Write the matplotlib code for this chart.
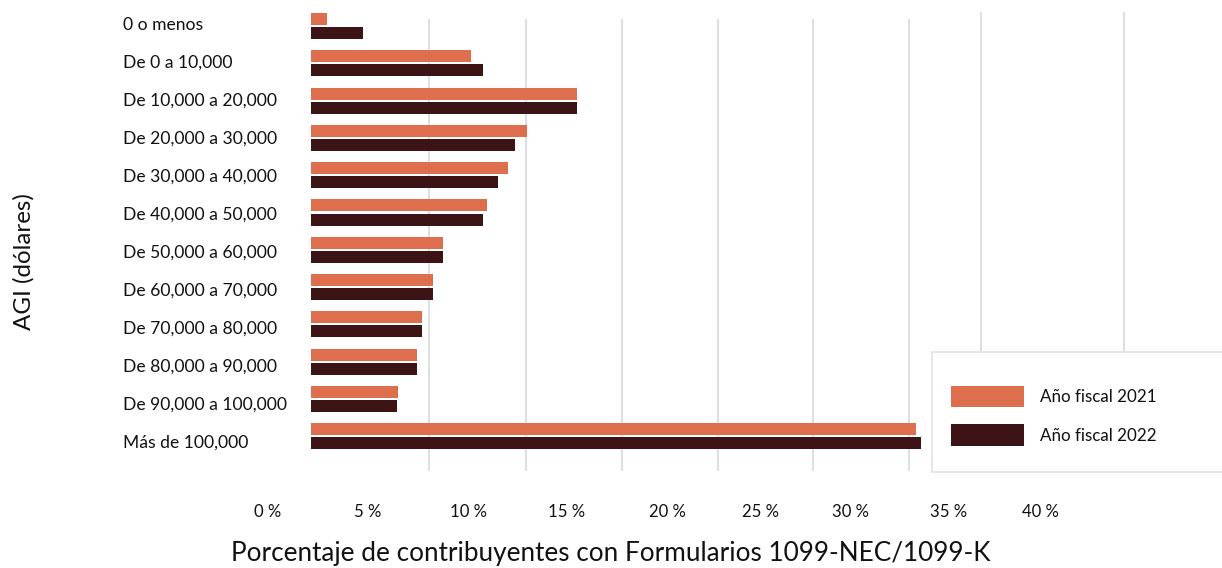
import matplotlib
matplotlib.use("Agg")
import matplotlib.pyplot as plt
import numpy as np
from matplotlib.patches import Rectangle

# ---------------- data ----------------
categories = ["0 o menos", "De 0 a 10,000", "De 10,000 a 20,000", "De 20,000 a 30,000",
              "De 30,000 a 40,000", "De 40,000 a 50,000", "De 50,000 a 60,000",
              "De 60,000 a 70,000", "De 70,000 a 80,000", "De 80,000 a 90,000",
              "De 90,000 a 100,000", "Más de 100,000"]
fy2021 = [0.85, 8.40, 13.93, 11.31, 10.31, 9.21, 6.91, 6.39, 5.81, 5.53, 4.54, 31.65]
fy2022 = [2.74, 9.02, 13.93, 10.68, 9.77, 9.01, 6.91, 6.39, 5.81, 5.53, 4.49, 31.94]
series_names = ["Año fiscal 2021", "Año fiscal 2022"]
tick_labels = ["0 %", "5 %", "10 %", "15 %", "20 %", "25 %", "30 %", "35 %", "40 %"]
x_title = "Porcentaje de contribuyentes con Formularios 1099-NEC/1099-K"
y_title = "AGI (dólares)"

# ---------------- style / layout ----------------
C2021 = "#DD6F4E"
C2022 = "#3C1415"
GRID = "#DCDFE3"
FONT = "Lato"
W, H = 1222, 568
SCALE = 19.1          # pixels per percentage point
X0 = 311              # pixel where bars start
ROW0, ROWSTEP = 26.0, 37.3

def fxp(px):
    return px / W

def fyp(py):
    return 1 - py / H

fig = plt.figure(figsize=(W / 100, H / 100), dpi=100)
fig.patch.set_facecolor("white")

ax = fig.add_axes([fxp(X0), 0, (W - X0) / W, 1])
ax.set_xlim(0, (W - X0) / SCALE)
ax.set_ylim((H - ROW0) / ROWSTEP, -ROW0 / ROWSTEP)
ax.axis("off")

def ydata(py):
    return (py - ROW0) / ROWSTEP

def xdata(px):
    return (px - X0) / SCALE

# gridlines (as in the reference, not aligned to tick labels)
for gx in [429, 526, 622, 718, 813, 909]:
    ax.vlines(xdata(gx), ydata(19), ydata(471), color=GRID, lw=1.5, zorder=0)
for gx in [981, 1124]:
    ax.vlines(xdata(gx), ydata(12), ydata(360), color=GRID, lw=1.5, zorder=0)

y = np.arange(len(categories))
off, bh = 0.188, 0.322
ax.barh(y - off, fy2021, height=bh, color=C2021, zorder=2, label=series_names[0])
ax.barh(y + off, fy2022, height=bh, color=C2022, zorder=2, label=series_names[1])

fig.canvas.draw()
rend = fig.canvas.get_renderer()

def fit(t, target, use_height=False):
    bb = t.get_window_extent(renderer=rend)
    cur = bb.height if use_height else bb.width
    t.set_fontsize(t.get_fontsize() * target / cur)

# category labels
cat_texts = []
for i, c in enumerate(categories):
    t = fig.text(fxp(123), fyp(25 + 38.0 * i), c, ha="left", va="center",
                 family=FONT, fontsize=12, color="#111111")
    cat_texts.append(t)
fit(cat_texts[10], 164)
for t in cat_texts:
    t.set_fontsize(cat_texts[10].get_fontsize())

# x tick labels
tick_x = [268, 368, 468, 567, 667, 761, 851, 949, 1040]
tts = []
for px, lab in zip(tick_x, tick_labels):
    t = fig.text(fxp(px), fyp(512), lab, ha="center", va="center",
                 family=FONT, fontsize=12, color="#111111")
    tts.append(t)
fit(tts[-1], 37)
for t in tts:
    t.set_fontsize(tts[-1].get_fontsize())

# axis titles
xt = fig.text(fxp(611), fyp(553), x_title, ha="center", va="center",
              family=FONT, fontsize=16, color="#111111")
fit(xt, 758)
yt = fig.text(fxp(24), fyp(262), y_title, ha="center", va="center", rotation=90,
              family=FONT, fontsize=16, color="#111111")
fit(yt, 137, use_height=True)

# legend (framed box running off the right edge)
fig.add_artist(Rectangle((fxp(932), fyp(472)), fxp(1240 - 932), (472 - 352) / H,
                         transform=fig.transFigure, facecolor="white",
                         edgecolor="#E0E3E7", lw=1.2, zorder=3))
for (top, bot, ty), col, name in zip([(386, 407, 397), (424, 446, 436)],
                                     [C2021, C2022], series_names):
    fig.add_artist(Rectangle((fxp(951), fyp(bot)), fxp(1024 - 951), (bot - top) / H,
                             transform=fig.transFigure, facecolor=col,
                             edgecolor="none", zorder=4))
    lt = fig.text(fxp(1040), fyp(ty), name, ha="left", va="center",
                  family=FONT, fontsize=11, color="#111111", zorder=5)
    fit(lt, 117)

fig.savefig("out.png", dpi=100, facecolor="white")
